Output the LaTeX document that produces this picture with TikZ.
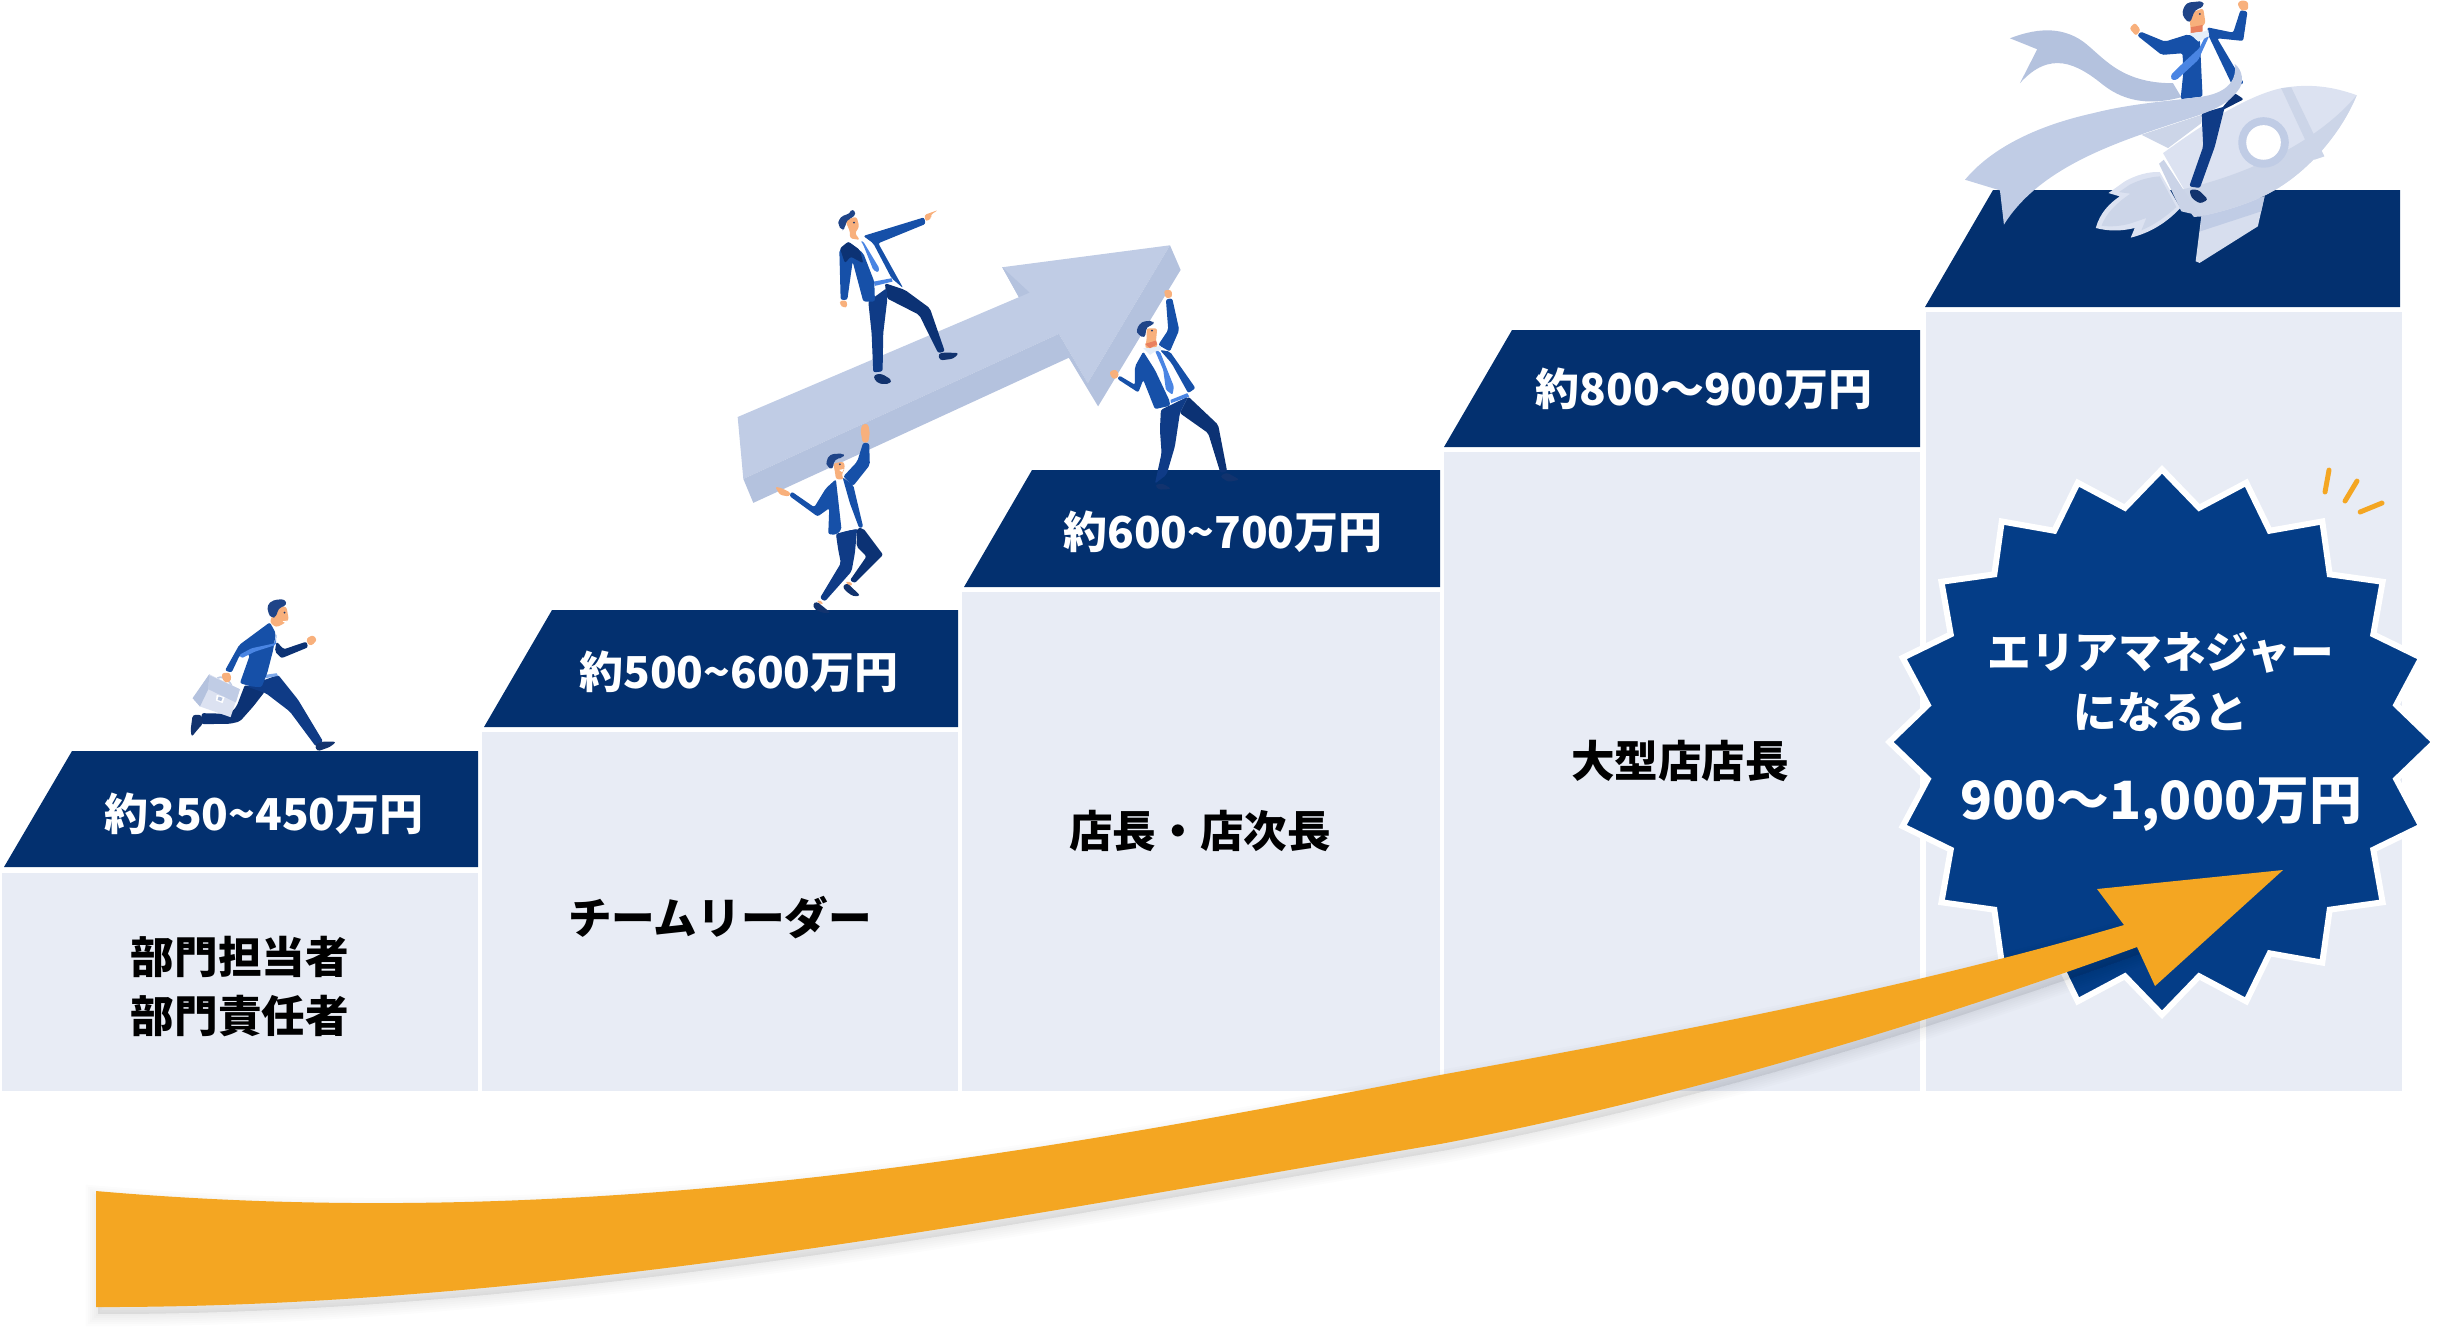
\documentclass[tikz,border=0pt]{standalone}
\usepackage{fontspec}
\setmainfont{Noto Sans CJK JP}
\usetikzlibrary{shapes.geometric}

\definecolor{navyband}{HTML}{03306F}
\definecolor{palestep}{HTML}{E8ECF5}
\definecolor{burstblue}{HTML}{043D87}
\definecolor{sweeporange}{HTML}{F4A622}
\definecolor{greytop}{HTML}{C0CCE5}
\definecolor{greyside}{HTML}{B4C2DE}
\definecolor{rocketlight}{HTML}{DCE2F1}
\definecolor{rocketmid}{HTML}{CCD5E8}
\definecolor{suitblue}{HTML}{1650A8}
\definecolor{slackblue}{HTML}{0F3B86}
\definecolor{slackdark}{HTML}{0C3274}
\definecolor{tieblue}{HTML}{4A85E3}
\definecolor{skintone}{HTML}{F8B07C}
\definecolor{neckred}{HTML}{E9805E}
\definecolor{hairblue}{HTML}{1F4488}
\definecolor{shoeblue}{HTML}{12336E}
\definecolor{collarpale}{HTML}{E4EEF9}

\tikzset{
    salary/.style={text=white, font=\fontsize{12.5}{15}\selectfont\bfseries},
    jobtitle/.style={text=black, font=\fontsize{12.4}{15}\selectfont\bfseries},
    burstline/.style={text=white, font=\fontsize{12.4}{15}\selectfont\bfseries},
    bursttotal/.style={text=white, font=\fontsize{15}{18}\selectfont\bfseries},
    spark/.style={draw=sweeporange, line width=1.4pt, line cap=round},
    zoomed/.style={x=0.003333cm, y=-0.003333cm},
    suit/.style={fill=suitblue, rounded corners=0.6pt},
    slack/.style={fill=slackblue, rounded corners=0.6pt},
    slackback/.style={fill=slackdark, rounded corners=0.6pt},
    shirt/.style={fill=white},
    tie/.style={fill=tieblue, rounded corners=0.4pt},
    skin/.style={fill=skintone, rounded corners=0.7pt},
    hair/.style={fill=hairblue, rounded corners=1pt},
    shoe/.style={fill=shoeblue, rounded corners=0.8pt},
    eye/.style={fill=hairblue!80!black},
}

\begin{document}
\begin{tikzpicture}[x=0.01cm, y=-0.01cm]
    \useasboundingbox (0,0) rectangle (2440,1332);

    % pale steps
    \fill[palestep] (2,873) rectangle (478,1091);
    \fill[palestep] (482,732) rectangle (958,1091);
    \fill[palestep] (962,592) rectangle (1440,1091);
    \fill[palestep] (1444,452) rectangle (1920,1091);
    \fill[palestep] (1926,312) rectangle (2402,1091);

    % navy bands
    \fill[navyband] (4,867) -- (72,751) -- (478,751) -- (478,867) -- cycle;
    \fill[navyband] (484,727) -- (552,610) -- (958,610) -- (958,727) -- cycle;
    \fill[navyband] (964,587) -- (1032,470) -- (1440,470) -- (1440,587) -- cycle;
    \fill[navyband] (1444,447) -- (1512,330) -- (1920,330) -- (1920,447) -- cycle;
    \fill[navyband] (1925,307) -- (1993,190) -- (2400,190) -- (2400,307) -- cycle;

    % burst and its sparks
    \node[star, star points=20, star point ratio=1.15, minimum size=5.45cm, inner sep=0pt, outer sep=0pt,
        fill=burstblue, draw=white, line width=1.7pt] (burst) at (2162,742) {};
    \draw[spark] (2329,470) -- (2325,492);
    \draw[spark] (2357,481) -- (2345,501);
    \draw[spark] (2382,503) -- (2360,512);

    % soft shadow under the sweep
    \foreach \w in {7,5.8,4.6,3.4,2.2,1}
        \filldraw[black, fill opacity=.012, draw opacity=.012, line width=\w pt, shift={(2,7)}]
            (96,1191) .. controls (600,1235) and (1050,1150) .. (1440,1075)
            .. controls (1700,1028) and (1920,985) .. (2124,925)
            -- (2137,947) .. controls (1950,1015) and (1700,1095) .. (1440,1144)
            .. controls (1050,1210) and (560,1308) .. (96,1307) -- cycle;

    % orange sweep
    \fill[sweeporange]
        (96,1191) .. controls (600,1235) and (1050,1150) .. (1440,1075)
        .. controls (1700,1028) and (1920,985) .. (2124,925)
        -- (2097,889) -- (2283,870) -- (2155,986) -- (2137,947)
        .. controls (1950,1015) and (1700,1095) .. (1440,1144)
        .. controls (1050,1210) and (560,1308) .. (96,1307) -- cycle;

    % step texts
    \node[salary] (payone) at (264,814) {約350\textasciitilde450万円};
    \node[salary] (paytwo) at (739,672) {約500\textasciitilde600万円};
    \node[salary] (paythree) at (1223,532) {約600\textasciitilde700万円};
    \node[salary] (payfour) at (1704,389) {約800〜900万円};
    \node[jobtitle] (staffa) at (240,957) {部門担当者};
    \node[jobtitle] (staffb) at (240,1016) {部門責任者};
    \node[jobtitle] (leader) at (720,918) {チームリーダー};
    \node[jobtitle] (manager) at (1200,831) {店長・店次長};
    \node[jobtitle] (bigshop) at (1680,761) {大型店店長};
    \node[burstline] (areaa) at (2161,653) {エリアマネジャー};
    \node[burstline] (areab) at (2161,712) {になると};
    \node[bursttotal] (total) at (2161,805) {900〜1,000万円};

    % big grey arrow
    \begin{scope}[shift={(730,200)}, zoomed]
        \fill[greytop] (23,652) -- (868,292) -- (818,202) -- (1322,136) -- (1075,550)
            -- (988,402) -- (40,838) -- cycle;
        \fill[greyside] (40,838) -- (988,402) -- (1075,550) -- (1322,136) -- (1354,210)
            -- (1106,620) -- (1018,474) -- (70,910) -- cycle;
        \fill[greyside] (818,202) -- (900,278) -- (868,292) -- cycle;
    \end{scope}

    % runner with the briefcase
    \begin{scope}[shift={(180,590)}, zoomed]
        \draw[greytop, line width=0.5pt] (112,265) .. controls (120,255) and (150,270) .. (155,288);
        \fill[slackback] (195,285) -- (255,305) -- (220,350) -- (180,395) -- (150,402) -- (65,403)
            -- (65,370) -- (150,372) -- (170,350) -- cycle;
        \fill[slack] (200,290) -- (295,255) -- (355,330) -- (430,455) -- (408,470) -- (330,365) -- (258,310) -- cycle;
        \fill[shoe] (38,375) -- (65,375) -- (70,400) -- (48,425) -- (35,442) -- (32,420) -- cycle;
        \fill[shoe] (405,465) -- (430,455) -- (470,456) -- (450,472) -- (412,485) -- cycle;
        \fill[shirt] (270,180) -- (290,135) -- (292,250) -- (255,262) -- cycle;
        \fill[tieblue!70] (255,255) -- (290,250) -- (295,258) -- (257,265) -- cycle;
        \fill[slackback] (290,155) -- (312,178) -- (380,155) -- (385,172) -- (305,205) -- (285,185) -- cycle;
        \fill[suit] (270,97) -- (288,130) -- (280,180) -- (262,250) -- (245,292) -- (215,290) -- (180,280)
            -- (210,195) -- (180,195) -- (155,248) -- (135,242) -- (178,165) -- cycle;
        \fill[tie] (178,195) -- (215,175) -- (285,160) -- (290,130) -- (288,165) -- (225,185) -- (185,205) -- cycle;
        \fill[skin] (380,145) -- (400,135) -- (412,150) -- (395,168) -- (383,162) -- cycle;
        \fill[skin] (280,50) -- (320,50) -- (327,90) -- (305,105) -- (288,112) -- (270,97) -- (278,75) -- cycle;
        \fill[eye] (314,68) circle (3);
        \fill[white] (308,94) -- (322,92) -- (318,100) -- cycle;
        \fill[hair] (262,45) -- (280,30) -- (315,27) -- (322,45) -- (295,55) -- (290,80) -- (275,85) -- (265,70) -- cycle;
        \fill[rocketlight] (38,325) -- (88,253) -- (180,298) -- (152,382) -- (60,350) -- cycle;
        \fill[greytop] (88,256) -- (180,298) -- (168,338) -- (85,298) -- cycle;
        \fill[greyside] (38,325) -- (88,253) -- (85,298) -- (60,350) -- cycle;
        \fill[white] (110,315) -- (134,322) -- (128,340) -- (108,332) -- cycle;
        \fill[greyside] (116,320) -- (128,324) -- (124,334) -- (113,330) -- cycle;
        \fill[skin] (125,250) -- (150,248) -- (155,270) -- (140,280) -- (128,270) -- cycle;
    \end{scope}

    % man standing on the grey arrow
    \begin{scope}[shift={(830,200)}, zoomed]
        \fill[slackback] (165,250) -- (225,270) -- (300,325) -- (345,455) -- (325,460) -- (268,345) -- (170,295) -- cycle;
        \fill[slack] (115,305) -- (170,265) -- (172,300) -- (160,400) -- (158,515) -- (130,518) -- (125,400) -- cycle;
        \fill[shoe] (132,525) -- (155,522) -- (185,540) -- (180,552) -- (150,553) -- (133,540) -- cycle;
        \fill[shoe] (325,462) -- (345,458) -- (388,460) -- (370,477) -- (330,482) -- cycle;
        \fill[shirt] (60,115) -- (95,115) -- (130,130) -- (185,235) -- (130,245) -- (90,150) -- cycle;
        \fill[tieblue] (132,245) -- (185,235) -- (188,245) -- (135,258) -- cycle;
        \fill[suit] (100,108) -- (283,52) -- (287,72) -- (145,130) -- (220,265) -- (185,235) -- (130,130) -- cycle;
        \fill[suit] (55,125) -- (28,150) -- (32,300) -- (52,300) -- (68,185) -- (100,305) -- (135,305) -- (133,245) -- (100,160) -- cycle;
        \fill[slackback] (55,125) -- (30,145) -- (45,190) -- (62,170) -- (100,190) -- (90,150) -- cycle;
        \fill[tie] (92,122) -- (100,125) -- (148,205) -- (145,218) -- (130,210) -- (100,135) -- cycle;
        \fill[skin] (283,45) -- (325,30) -- (302,45) -- (305,55) -- (288,65) -- cycle;
        \fill[skin] (30,302) -- (50,302) -- (52,322) -- (40,323) -- (30,315) -- cycle;
        \fill[skin] (45,60) -- (80,50) -- (88,80) -- (75,100) -- (90,120) -- (60,115) -- (60,95) -- cycle;
        \fill[eye] (72,68) circle (3);
        \fill[hair] (25,60) -- (40,45) -- (60,42) -- (65,25) -- (80,40) -- (65,55) -- (50,60) -- (45,85) -- (35,92) -- (25,75) -- cycle;
    \end{scope}

    % man lifting the tail
    \begin{scope}[shift={(770,420)}, zoomed]
        \fill[skin] (232,483) -- (250,492) -- (240,500) -- (228,492) -- cycle;
        \fill[skin] (145,540) -- (160,548) -- (155,555) -- (142,548) -- cycle;
        \fill[slackback] (262,325) -- (280,325) -- (340,405) -- (255,490) -- (240,482) -- (290,410) -- (260,380) -- cycle;
        \fill[slack] (198,342) -- (262,325) -- (255,400) -- (245,455) -- (165,545) -- (150,535) -- (213,430) -- (205,390) -- cycle;
        \fill[shoe] (128,553) -- (140,545) -- (165,565) -- (183,580) -- (160,580) -- (135,570) -- cycle;
        \fill[shoe] (218,498) -- (232,490) -- (272,528) -- (250,530) -- (225,512) -- cycle;
        \fill[shirt] (198,178) -- (218,172) -- (265,327) -- (210,335) -- cycle;
        \fill[skin] (15,200) -- (35,205) -- (62,218) -- (58,230) -- (30,225) -- cycle;
        \fill[skin] (272,30) -- (278,12) -- (295,12) -- (300,40) -- (295,68) -- (278,68) -- cycle;
        \fill[suit] (280,68) -- (298,70) -- (300,135) -- (250,198) -- (220,170) -- (262,125) -- cycle;
        \fill[suit] (218,172) -- (250,195) -- (280,322) -- (268,325) -- (240,250) -- cycle;
        \fill[suit] (58,228) -- (65,215) -- (133,262) -- (168,205) -- (198,178) -- (215,330) -- (198,345)
            -- (175,343) -- (178,265) -- (143,290) -- cycle;
        \fill[skin] (190,130) -- (222,125) -- (225,145) -- (215,165) -- (222,178) -- (198,178) -- (195,155) -- cycle;
        \fill[eye] (210,133) circle (3);
        \fill[white] (208,150) -- (222,147) -- (217,157) -- cycle;
        \fill[hair] (168,125) -- (180,103) -- (222,100) -- (222,112) -- (195,118) -- (190,135) -- (187,150) -- (172,140) -- cycle;
    \end{scope}

    % man lifting the head
    \begin{scope}[shift={(1100,280)}, zoomed]
        \fill[slackback] (265,350) -- (355,435) -- (382,575) -- (362,580) -- (325,460) -- (240,400) -- cycle;
        \fill[slack] (183,390) -- (265,350) -- (240,400) -- (225,500) -- (200,585) -- (165,612) -- (185,520) -- (180,450) -- cycle;
        \fill[shoe] (360,590) -- (380,578) -- (420,600) -- (385,607) -- cycle;
        \fill[shoe] (165,615) -- (190,612) -- (215,628) -- (175,630) -- cycle;
        \fill[shirt] (135,210) -- (180,210) -- (260,340) -- (215,360) -- (165,260) -- cycle;
        \fill[tieblue] (212,360) -- (262,340) -- (268,350) -- (213,370) -- cycle;
        \fill[skin] (192,30) -- (215,30) -- (217,52) -- (197,55) -- cycle;
        \fill[skin] (28,275) -- (48,268) -- (58,285) -- (48,298) -- (35,295) -- cycle;
        \fill[suit] (198,58) -- (217,55) -- (238,150) -- (210,215) -- (175,195) -- (205,150) -- cycle;
        \fill[suit] (180,210) -- (210,215) -- (287,325) -- (265,340) -- (215,250) -- cycle;
        \fill[suit] (52,297) -- (58,287) -- (105,315) -- (105,260) -- (130,215) -- (165,270) -- (210,365)
            -- (210,378) -- (165,388) -- (130,300) -- (115,338) -- cycle;
        \fill[tie] (165,212) -- (180,215) -- (222,320) -- (218,345) -- (198,330) -- (190,270) -- cycle;
        \fill[collarpale] (130,205) -- (183,198) -- (183,210) -- (165,215) -- (150,225) -- cycle;
        \fill[skin] (140,145) -- (172,145) -- (168,185) -- (175,200) -- (135,205) -- (140,180) -- cycle;
        \fill[neckred] (135,192) -- (168,182) -- (172,193) -- (150,205) -- cycle;
        \fill[eye] (156,152) circle (3);
        \fill[hair] (108,150) -- (125,125) -- (160,122) -- (162,135) -- (140,140) -- (135,175) -- (115,165) -- cycle;
    \end{scope}

    % rocket and the ribbon behind it
    \begin{scope}[shift={(1960,0)}, zoomed]
        \fill[greyside] (150,115) .. controls (220,88) and (300,75) .. (370,125)
            .. controls (430,170) and (480,250) .. (640,250) -- (665,292)
            .. controls (580,315) and (500,310) .. (430,255)
            .. controls (350,190) and (270,150) .. (180,250) -- (232,148) -- cycle;
        \fill[rocketmid] (545,405) -- (725,345) -- (725,370) -- (625,445) -- cycle;
        % flame
        \fill[rocketlight] (408,685) .. controls (420,640) and (450,610) .. (480,590) -- (446,580) -- (495,545)
            .. controls (530,525) and (570,515) .. (600,517) -- (662,625) .. controls (620,670) and (570,700) .. (513,714)
            -- (525,685) .. controls (485,695) and (445,695) .. (408,685) -- cycle;
        \fill[rocketmid] (425,678) .. controls (440,640) and (470,610) .. (512,582) -- (478,577) -- (510,555)
            .. controls (540,540) and (570,532) .. (600,530) -- (650,622) .. controls (620,650) and (585,675) .. (545,692)
            -- (560,655) -- (510,672) .. controls (480,680) and (450,682) .. (425,678) -- cycle;
        % fin
        \fill[rocketlight!70!rocketmid] (725,650) -- (915,590) -- (895,680) -- (720,790) -- (708,785) -- cycle;
        \fill[greytop] (725,650) -- (915,590) -- (905,635) -- (722,695) -- cycle;
        % body
        \fill[rocketlight] (610,460) .. controls (700,395) and (850,290) .. (965,265)
            .. controls (1050,250) and (1120,260) .. (1192,286)
            .. controls (1150,390) and (1050,520) .. (920,585)
            .. controls (850,620) and (770,640) .. (720,650) -- cycle;
        \fill[rocketmid] (665,570) .. controls (880,520) and (1080,420) .. (1192,286)
            .. controls (1150,390) and (1050,520) .. (920,585)
            .. controls (850,620) and (770,640) .. (720,650) -- cycle;
        \fill[rocketmid!80!greytop] (598,492) -- (612,480) -- (724,650) -- (703,652) -- (695,642) -- (665,635) -- cycle;
        \fill[rocketmid] (965,265) -- (995,262) -- (1095,470) -- (1065,480) -- cycle;
        \fill[greytop] (912,428) circle (76);
        \fill[white] (912,428) circle (52);
    \end{scope}

    % man riding the rocket
    \begin{scope}[shift={(2120,0)}, zoomed]
        \fill[slackback] (310,320) -- (345,280) -- (372,298) -- (300,335) -- cycle;
        \fill[slack] (245,340) -- (315,320) -- (300,380) -- (285,440) -- (240,565) -- (208,560) -- (250,440) -- cycle;
        \fill[shoe] (208,570) -- (235,570) -- (265,600) -- (240,612) -- (215,595) -- cycle;
        \fill[shirt] (235,110) -- (265,105) -- (345,250) -- (250,295) -- cycle;
        \fill[suit] (262,82) -- (340,98) -- (362,30) -- (383,35) -- (370,123) -- (292,115) -- (372,250) -- (340,262) -- (265,105) -- cycle;
        \fill[suit] (52,107) -- (62,95) -- (135,125) -- (205,103) -- (240,120) -- (248,290) -- (182,298) -- (190,220) -- (188,160) -- (125,165) -- cycle;
        \fill[tie] (258,105) -- (238,145) -- (178,200) -- (153,225) -- (155,240) -- (170,240) -- (235,180) -- (268,108) -- cycle;
        \fill[skin] (28,85) -- (45,68) -- (62,90) -- (48,108) -- cycle;
        \fill[skin] (352,10) -- (365,0) -- (385,5) -- (385,30) -- (363,32) -- cycle;
        \fill[skin] (208,40) -- (250,25) -- (257,70) -- (240,85) -- (212,88) -- cycle;
        \fill[neckred] (212,82) -- (248,75) -- (248,95) -- (212,100) -- cycle;
        \fill[eye] (240,42) circle (3);
        \fill[collarpale] (208,100) -- (250,95) -- (265,90) -- (268,108) -- (235,125) -- cycle;
        \fill[hair] (186,35) -- (200,8) -- (250,3) -- (252,20) -- (225,30) -- (210,70) -- (192,55) -- cycle;
    \end{scope}

    % ribbon around the waist
    \begin{scope}[shift={(1960,0)}, zoomed]
        \fill[greytop] (15,540) .. controls (90,450) and (220,380) .. (400,340)
            .. controls (520,310) and (620,305) .. (730,290)
            .. controls (790,280) and (835,250) .. (825,192)
            .. controls (850,210) and (855,250) .. (835,272)
            .. controls (800,320) and (740,340) .. (650,368)
            .. controls (480,425) and (240,500) .. (132,675) -- (120,572) -- cycle;
    \end{scope}
\end{tikzpicture}
\end{document}
